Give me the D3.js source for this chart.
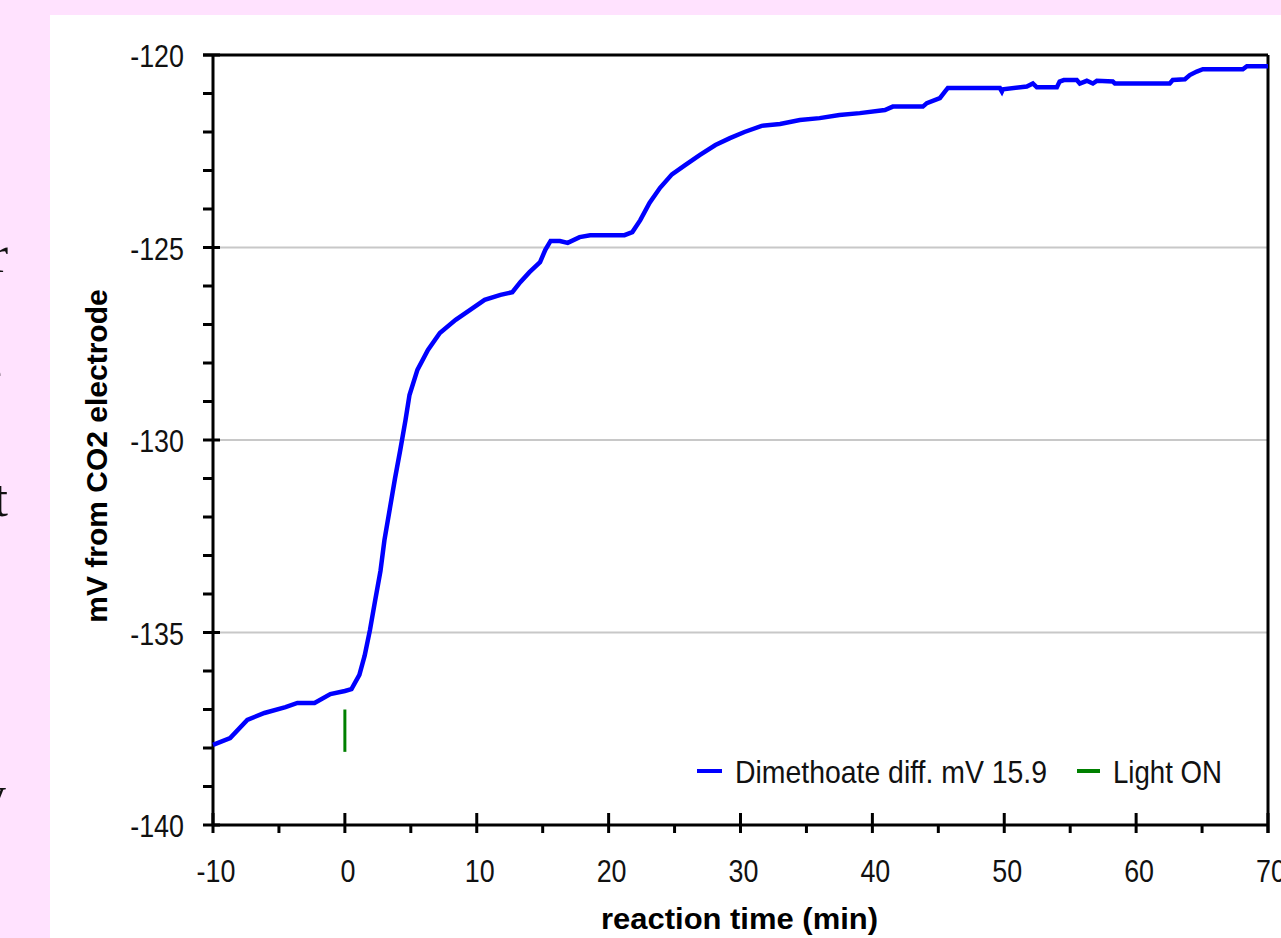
<!DOCTYPE html>
<html>
<head>
<meta charset="utf-8">
<script src="https://cdn.jsdelivr.net/npm/d3@7"></script>
<style>
  body { margin: 0; background: #ffe2fe; }
  svg { display: block; }
</style>
</head>
<body>
<script>
// reading values (min, mV)
const time = [-10, -8.7, -7.4, -6.1, -4.5, -3.6, -2.3, -1.1, 0, 0.5, 1.1, 1.5, 1.9, 2.3, 2.7, 3.0, 3.4, 3.8, 4.2, 4.6, 4.9, 5.5, 6.3, 7.2, 8.4, 9.5, 10.6, 11.8, 12.7, 13.3, 14.0, 14.8, 15.2, 15.6, 16.3, 16.9, 17.8, 18.6, 21.2, 21.8, 22.4, 23.1, 23.9, 24.8, 25.8, 26.9, 28.1, 29.2, 30.3, 31.6, 33.0, 34.5, 36.0, 37.5,
  39.05, 40.95, 41.55, 43.83, 44.13, 45.12, 45.5, 45.72, 49.67, 49.82, 49.9, 51.71, 52.17, 52.47, 53.99, 54.2, 54.52, 55.5, 55.73, 56.26, 56.72, 57.02, 58.23, 58.39, 62.55, 62.78, 63.7, 64.07, 64.6, 65.06, 68.09, 68.4, 70];
const mv = [-137.92, -137.74, -137.27, -137.09, -136.94, -136.83, -136.83, -136.6, -136.52, -136.47, -136.1, -135.6, -134.94, -134.16, -133.4, -132.6, -131.8, -131.0, -130.26, -129.48, -128.83, -128.18, -127.66, -127.22, -126.88, -126.62, -126.36, -126.23, -126.16, -125.9, -125.64, -125.38, -125.06, -124.83, -124.83, -124.88, -124.73, -124.68, -124.68, -124.6, -124.29, -123.84, -123.45, -123.1, -122.86, -122.6, -122.34, -122.16, -122.0, -121.84, -121.79, -121.69, -121.64, -121.56,
  -121.51, -121.43, -121.34, -121.34, -121.25, -121.12, -120.95, -120.86, -120.86, -120.95, -120.89, -120.82, -120.74, -120.84, -120.84, -120.69, -120.65, -120.65, -120.74, -120.67, -120.74, -120.67, -120.69, -120.74, -120.74, -120.65, -120.63, -120.52, -120.43, -120.37, -120.37, -120.29, -120.29];

// light on marker
const lightTime = [0, 0];
const lightMv = [-137.0, -138.1];

const xTicks = [-10, 0, 10, 20, 30, 40, 50, 60, 70];
const yTicks = [-140, -135, -130, -125, -120];
const gridVals = [-135, -130, -125];
const legendNames = ["Dimethoate diff. mV 15.9", "Light ON"];
const legendColors = ["#0000ff", "#008000"];

// pieces of the neighbouring text column, cut off at the left
const sideChars = [{t: "r", y: 272, x: 8}, {t: "e", y: 388, x: 2}, {t: "t", y: 516, x: 8}, {t: "y", y: 812, x: 6}];

const W = 1281, H = 938;
const margin = {top: 55, right: 13, bottom: 113, left: 213};
const width = W - margin.left - margin.right,
      height = H - margin.top - margin.bottom;

const tickFont = "'Liberation Sans', Arial, sans-serif";
const narrowX = 0.84;

const svg = d3.select("body").append("svg")
    .attr("width", W)
    .attr("height", H);

svg.append("rect").attr("width", W).attr("height", H).attr("fill", "#ffe2fe");
svg.append("rect").attr("x", 50).attr("y", 15).attr("width", W - 50).attr("height", H - 15).attr("fill", "#fff");

svg.selectAll(".side").data(sideChars).enter().append("text")
    .attr("x", d => d.x).attr("y", d => d.y)
    .attr("text-anchor", "end")
    .attr("font-family", "'Liberation Serif', serif")
    .attr("font-size", 52)
    .attr("fill", "#111")
    .text(d => d.t);

const g = svg.append("g")
    .attr("transform", "translate(" + margin.left + "," + margin.top + ")");

const x = d3.scaleLinear().domain([-10, 70]).range([0, width]);
const y = d3.scaleLinear().domain([-140, -120]).range([height, 0]);

// grid
g.selectAll(".grid").data(gridVals).enter().append("line")
    .attr("x1", 0).attr("x2", width)
    .attr("y1", d => y(d)).attr("y2", d => y(d))
    .attr("stroke", "#c8c8c8").attr("stroke-width", 2);

// frame top + right
g.append("line").attr("x1", -10).attr("x2", width).attr("y1", 0).attr("y2", 0)
    .attr("stroke", "#000").attr("stroke-width", 3);
g.append("line").attr("x1", width).attr("x2", width).attr("y1", 0).attr("y2", height + 8)
    .attr("stroke", "#000").attr("stroke-width", 3);

// y axis
const yMinor = d3.range(-140, -119, 1);
g.selectAll(".ytk").data(yMinor).enter().append("line")
    .attr("x1", -10)
    .attr("x2", d => d % 5 === 0 ? 7 : 0)
    .attr("y1", d => y(d)).attr("y2", d => y(d))
    .attr("stroke", "#000").attr("stroke-width", 3);
g.append("line").attr("x1", 0).attr("x2", 0).attr("y1", 0).attr("y2", height)
    .attr("stroke", "#000").attr("stroke-width", 3);
g.selectAll(".ylab").data(yTicks).enter().append("text")
    .attr("transform", d => "translate(-29," + y(d) + ") scale(" + narrowX + ",1)")
    .attr("dy", "0.38em")
    .attr("text-anchor", "end")
    .attr("font-family", tickFont)
    .attr("font-size", 32)
    .attr("fill", "#111")
    .text(d => d);

// x axis
const xMinor = d3.range(-10, 71, 5);
g.selectAll(".xtk").data(xMinor).enter().append("line")
    .attr("x1", d => x(d)).attr("x2", d => x(d))
    .attr("y1", d => d % 10 === 0 ? height - 12 : height)
    .attr("y2", height + 8)
    .attr("stroke", "#000").attr("stroke-width", 3);
g.append("line").attr("x1", 0).attr("x2", width).attr("y1", height).attr("y2", height)
    .attr("stroke", "#000").attr("stroke-width", 3);
g.selectAll(".xlab").data(xTicks).enter().append("text")
    .attr("transform", d => "translate(" + (x(d) + 3) + "," + (height + 57) + ") scale(" + narrowX + ",1)")
    .attr("text-anchor", "middle")
    .attr("font-family", tickFont)
    .attr("font-size", 32)
    .attr("fill", "#111")
    .text(d => d);

// axis titles
g.append("text")
    .attr("x", width / 2 - 1).attr("y", height + 104)
    .attr("text-anchor", "middle")
    .attr("font-family", "'Liberation Sans', Arial, sans-serif")
    .attr("font-weight", "bold")
    .attr("font-size", 30)
    .attr("textLength", 277)
    .attr("lengthAdjust", "spacingAndGlyphs")
    .attr("fill", "#000")
    .text("reaction time (min)");
g.append("text")
    .attr("transform", "translate(-106," + (height / 2 + 16) + ") rotate(-90)")
    .attr("text-anchor", "middle")
    .attr("font-family", "'Liberation Sans', Arial, sans-serif")
    .attr("font-weight", "bold")
    .attr("font-size", 30)
    .attr("fill", "#000")
    .text("mV from CO2 electrode");

// series
const pts = time.map((t, i) => [t, mv[i]]);
const line = d3.line().x(d => x(d[0])).y(d => y(d[1]));
g.append("path").datum(pts)
    .attr("d", line)
    .attr("fill", "none")
    .attr("stroke", "#0000ff")
    .attr("stroke-width", 4.5)
    .attr("stroke-linejoin", "miter");

g.append("path").datum(lightTime.map((t, i) => [t, lightMv[i]]))
    .attr("d", line)
    .attr("fill", "none")
    .attr("stroke", "#008000")
    .attr("stroke-width", 3);

// legend
const legX = [697 - margin.left, 1077 - margin.left];
const legW = [312, 109];
const leg = g.selectAll(".leg").data(legendNames).enter().append("g")
    .attr("transform", (d, i) => "translate(" + legX[i] + "," + (771 - margin.top) + ")");
leg.append("line").attr("x1", 0).attr("x2", (d, i) => i === 0 ? 25 : 23).attr("y1", 0).attr("y2", 0)
    .attr("stroke", (d, i) => legendColors[i]).attr("stroke-width", 4);
leg.append("text")
    .attr("x", (d, i) => i === 0 ? 38 : 36).attr("y", 0).attr("dy", "0.36em")
    .attr("font-family", tickFont)
    .attr("font-size", 32)
    .attr("textLength", (d, i) => legW[i])
    .attr("lengthAdjust", "spacingAndGlyphs")
    .attr("fill", "#111")
    .text(d => d);
</script>
</body>
</html>
